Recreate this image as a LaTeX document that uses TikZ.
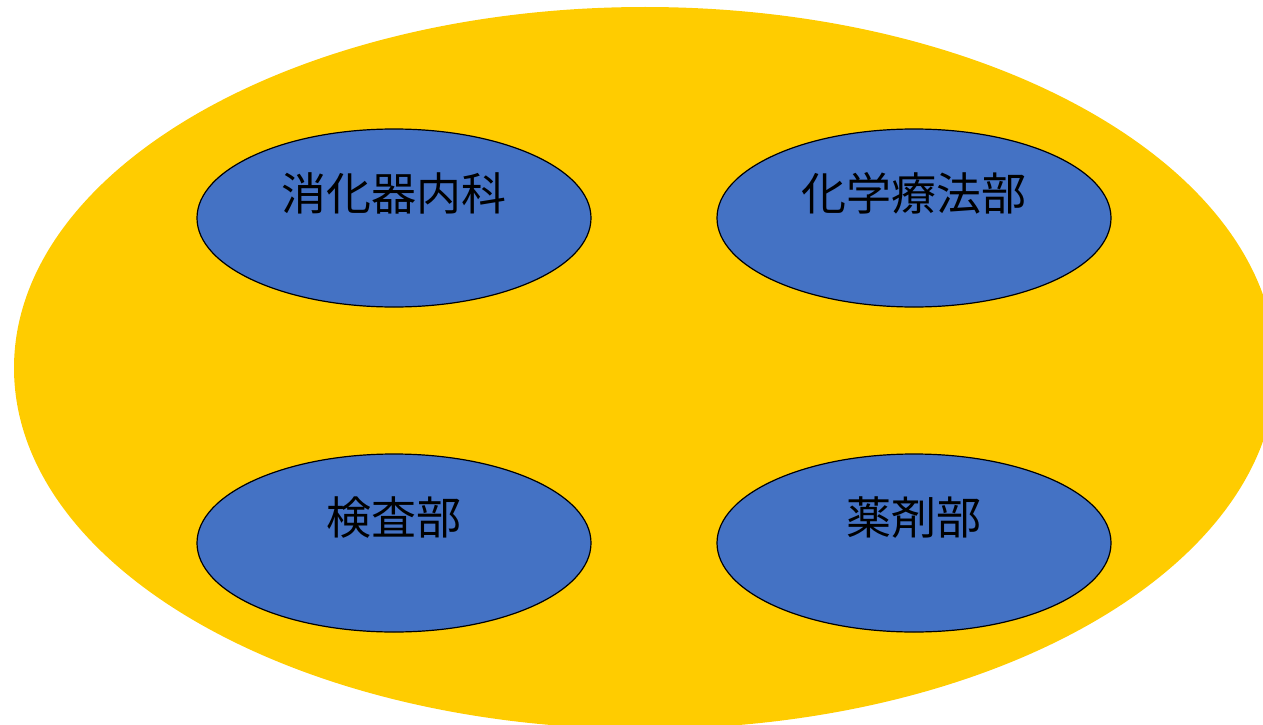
\documentclass[tikz,border=0pt]{standalone}
\usepackage{fontspec}
\newfontfamily\cjk{Noto Sans CJK JP}
\usetikzlibrary{shapes.geometric}
\definecolor{bigyellow}{HTML}{FFCC00}
\definecolor{deptblue}{HTML}{4472C4}
\tikzset{
  dept/.style={ellipse, draw=black, line width=1.2pt, fill=deptblue,
    minimum width=394pt, minimum height=178pt, inner sep=0pt},
  depttext/.style={font=\cjk\fontsize{45pt}{54pt}\selectfont, text=black, yshift=25pt}
}
\begin{document}
\begin{tikzpicture}[x=1pt,y=-1pt]
\useasboundingbox (0,0) rectangle (1263,725);
\begin{scope}
  \clip (0,0) rectangle (1263,725);
  \fill[bigyellow] (645,368) ellipse [x radius=631pt, y radius=361pt];
\end{scope}
\node[dept, label={[depttext]center:消化器内科}] (gi) at (394,218) {};
\node[dept, label={[depttext]center:化学療法部}] (chemo) at (914,218) {};
\node[dept, label={[depttext]center:検査部}] (lab) at (394,543) {};
\node[dept, label={[depttext]center:薬剤部}] (pharm) at (914,543) {};
\end{tikzpicture}
\end{document}
